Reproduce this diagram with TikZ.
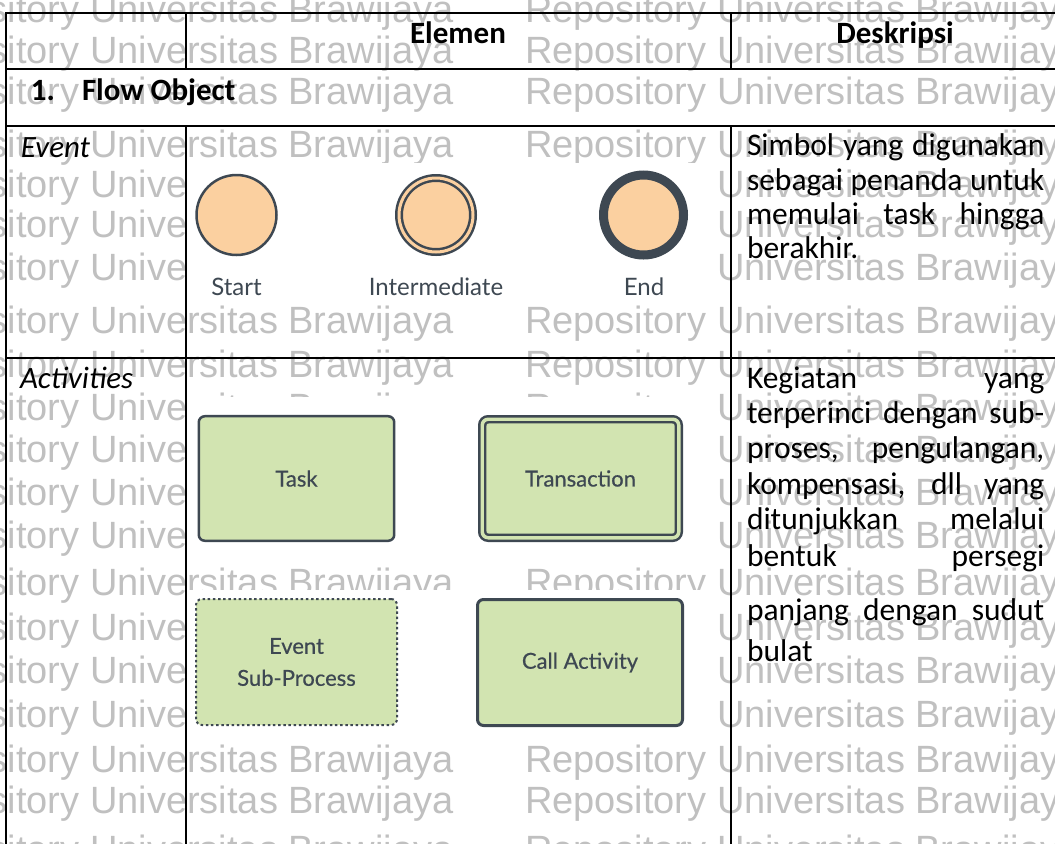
\documentclass[tikz,border=0pt]{standalone}
\usepackage{fontspec}
\setmainfont{Carlito}
\newfontfamily\wmfont{Liberation Sans}
\newfontfamily\bpmnfont{Lato}
\newfontfamily\bpmnmed[FakeBold=0.5]{Lato}
\usepackage{tikz}
\usetikzlibrary{positioning}
\usepackage{xcolor}
\definecolor{wmgray}{RGB}{192,192,192}
\definecolor{eventfill}{RGB}{251,208,160}
\definecolor{actfill}{RGB}{210,228,177}
\definecolor{bpmnline}{RGB}{62,72,82}

\begin{document}
\begin{tikzpicture}[
    x=0.75pt,y=-0.75pt,
    every node/.style={inner sep=0pt,outer sep=0pt},
    wmtext/.style={anchor=base west,text=wmgray,font=\wmfont\fontsize{28.5}{30}\selectfont},
    celltext/.style={anchor=base west,font=\fontsize{23.25}{28}\selectfont},
    desctext/.style={anchor=base west,font=\fontsize{23.6}{28}\selectfont},
    hdtext/.style={anchor=base,font=\fontsize{23.25}{28}\selectfont\bfseries},
    tblline/.style={line width=1.5pt},
    evcircle/.style={circle,draw=bpmnline,fill=eventfill,minimum size=60pt},
    evlabel/.style={text=bpmnline,font=\bpmnfont\fontsize{18}{20}\selectfont},
    actbox/.style={rectangle,draw=bpmnline,fill=actfill,rounded corners=4.5pt,
                   line width=1.875pt,text=bpmnline,align=center,
                   font=\bpmnmed\fontsize{16.5}{24}\selectfont}
  ]
    \useasboundingbox (0,0) rectangle (1055,843);
    \begin{scope}
    \clip (0,0) rectangle (1055,843);
    % watermark of the scan
    \foreach \wy [count=\wr] in {22,63,104,157,197,237,280,333,377,420,462,505,548,595,640,683,727,772,813,862}
      \foreach \wx [count=\wc] in {-102,525}
        \node[wmtext] (wm-\wr-\wc) at (\wx,\wy) {Repository Universitas Brawijaya};
    % pasted figures
    \fill[white] (187,163) rectangle (707,303);
    \fill[white] (187,397) rectangle (707,562);
    \fill[white] (187,590) rectangle (707,737);

    % table
    \draw[tblline] (6,13) -- (1060,13);
    \draw[tblline] (6,69) -- (1060,69);
    \draw[tblline] (6,126) -- (1060,126);
    \draw[tblline] (6,358) -- (1060,358);
    \draw[tblline] (6,12) -- (6,850);
    \draw[tblline] (186,13) -- (186,69) (186,126) -- (186,850);
    \draw[tblline] (731,13) -- (731,69) (731,126) -- (731,850);
    \end{scope}

    \node[hdtext] (hdelemen) at (458,43) {Elemen};
    \node[hdtext] (hddesk) at (895,43) {Deskripsi};
    \node[celltext,font=\fontsize{23.25}{28}\selectfont\bfseries] (fonum) at (31,100) {1.};
    \node[celltext,font=\fontsize{23.25}{28}\selectfont\bfseries] (fotext) at (82,100) {Flow Object};
    \node[celltext,font=\fontsize{23.25}{28}\selectfont\itshape] (evrow) at (21,157) {Event};
    \node[celltext,font=\fontsize{23.25}{28}\selectfont\itshape] (actrow) at (20,388) {Activities};

    % events
    \node[evcircle,line width=1.875pt] (start) at (236.5,215) {};
    \node[evcircle,line width=1.875pt,double=eventfill,double distance=2.25pt,minimum size=55.5pt] (inter) at (436,215) {};
    \node[evcircle,line width=6.75pt] (endev) at (643.5,215) {};
    \node[evlabel] (startlbl) at (236.5,287) {Start};
    \node[evlabel] (interlbl) at (436,287) {Intermediate};
    \node[evlabel] (endlbl) at (644,287) {End};

    % activities
    \node[actbox,minimum width=146.6pt,minimum height=93.4pt] (task) at (296.5,478.5) {Task};
    \node[actbox,double=actfill,double distance=2.6pt,minimum width=147.4pt,minimum height=88.9pt] (trans) at (580.5,478.5) {Transaction};
    \node[actbox,dotted,line width=1.5pt,minimum width=150.75pt,minimum height=94.5pt] (evsub) at (296.5,662) {Event\\Sub-Process};
    \node[actbox,line width=2.25pt,minimum width=153.75pt,minimum height=94.5pt] (callact) at (580,662.5) {Call Activity};

    % descriptions
    \node[desctext] (evd1) at (747,155) {\makebox[223pt][s]{Simbol yang digunakan}};
    \node[desctext] (evd2) at (747,190) {\makebox[223pt][s]{sebagai penanda untuk}};
    \node[desctext] (evd3) at (747,224) {\makebox[223pt][s]{memulai task hingga}};
    \node[desctext] (evd4) at (747,258) {berakhir.};
    \node[desctext] (acd1) at (747,388) {\makebox[223pt][s]{Kegiatan yang}};
    \node[desctext] (acd2) at (747,423) {\makebox[223pt][s]{terperinci dengan sub-}};
    \node[desctext] (acd3) at (747,458) {\makebox[223pt][s]{proses, pengulangan,}};
    \node[desctext] (acd4) at (747,494) {\makebox[223pt][s]{kompensasi, dll yang}};
    \node[desctext] (acd5) at (747,529) {\makebox[223pt][s]{ditunjukkan melalui}};
    \node[desctext] (acd6) at (747,566) {\makebox[223pt][s]{bentuk persegi}};
    \node[desctext] (acd7) at (747,620) {\makebox[223pt][s]{panjang dengan sudut}};
    \node[desctext] (acd8) at (747,661) {bulat};
  \end{tikzpicture}
\end{document}
